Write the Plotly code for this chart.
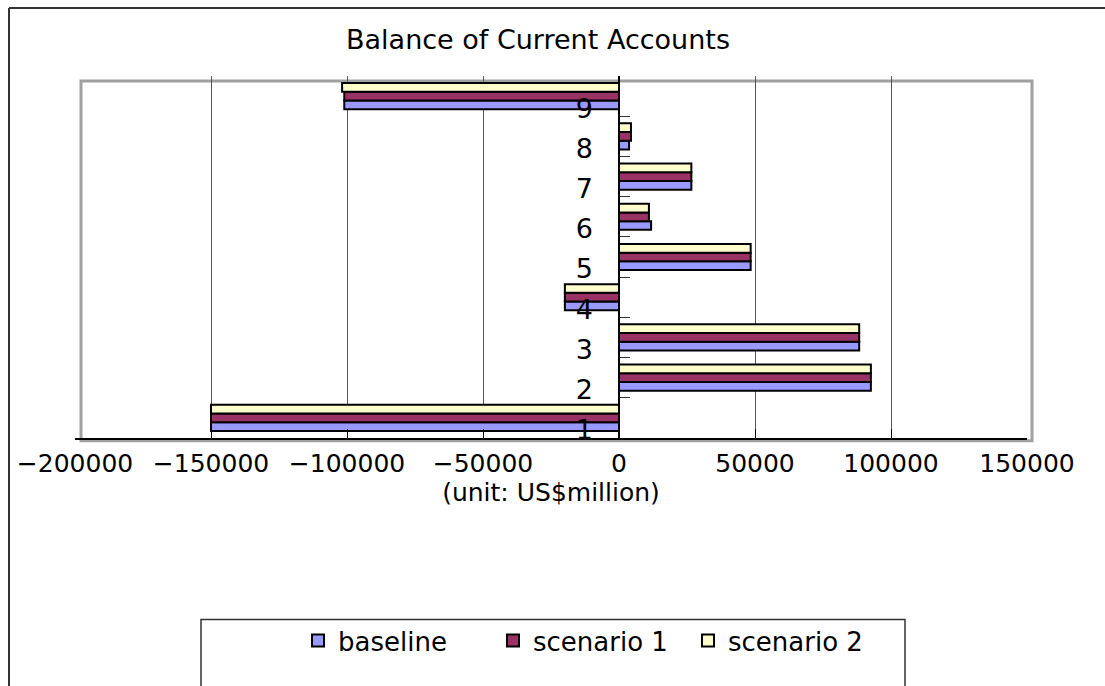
import plotly.graph_objects as go

# ---- data ----
categories = ["1", "2", "3", "4", "5", "6", "7", "8", "9"]
baseline = [-150000, 92600, 88300, -19900, 48400, 11800, 26600, 3700, -101000]
scenario1 = [-150000, 92600, 88300, -19900, 48400, 11000, 26600, 4400, -101000]
scenario2 = [-150000, 92600, 88300, -19900, 48400, 11000, 26600, 4400, -101800]
series_names = ["baseline", "scenario 1", "scenario 2"]
series_colors = ["#9999FF", "#993366", "#FFFFCC"]
x_tickvals = [-200000, -150000, -100000, -50000, 0, 50000, 100000, 150000]
x_ticktext = ["\u2212200000", "\u2212150000", "\u2212100000", "\u221250000", "0", "50000", "100000", "150000"]

W, H = 1105, 686
L, R, T, B = 75, 1027, 76, 438.3
FONT = "DejaVu Sans"


def px(x):
    return (x - L) / (R - L)


def py(y):
    return (B - y) / (B - T)


fig = go.Figure()
for name, vals, col in zip(series_names, [baseline, scenario1, scenario2], series_colors):
    fig.add_trace(go.Bar(
        y=categories, x=vals, name=name, orientation="h",
        marker=dict(color=col, line=dict(color="black", width=2)),
    ))

shapes = [
    # plot frame (grey)
    dict(type="rect", xref="paper", yref="paper", x0=px(81), x1=px(1032), y0=py(441), y1=py(81),
         line=dict(color="#a0a0a0", width=3), layer="below"),
    # outer chart border (left + top)
    dict(type="line", xref="paper", yref="paper", x0=px(9), x1=px(1120), y0=py(8), y1=py(8),
         line=dict(color="#333333", width=2)),
    dict(type="line", xref="paper", yref="paper", x0=px(9), x1=px(9), y0=py(8), y1=py(720),
         line=dict(color="#333333", width=2)),
    # legend box
    dict(type="rect", xref="paper", yref="paper", x0=px(201), x1=px(905), y0=py(720), y1=py(620),
         line=dict(color="#333333", width=1.5)),
]

fig.update_layout(
    width=W, height=H,
    margin=dict(l=L, r=W - R, t=T, b=H - B, pad=0),
    paper_bgcolor="white", plot_bgcolor="white",
    font=dict(family=FONT, color="black", size=26),
    barmode="group", bargap=0.35, bargroupgap=0,
    title=dict(text="Balance of Current Accounts", x=538 / W, xref="container", xanchor="center",
               y=1 - 40 / H, yref="container", yanchor="middle",
               font=dict(family=FONT, size=27, color="black")),
    xaxis=dict(range=[-200000, 150000], tickvals=x_tickvals, ticktext=x_ticktext,
               showgrid=True, gridcolor="#555555", gridwidth=1,
               showline=True, linecolor="black", linewidth=1.5,
               ticks="inside", ticklen=9, tickcolor="black",
               zeroline=False, ticklabelstandoff=2,
               tickfont=dict(family=FONT, size=25, color="black"),
               title=dict(text="(unit: US$million)", standoff=7,
                          font=dict(family=FONT, size=25, color="black"))),
    yaxis=dict(type="category", categoryorder="array", categoryarray=categories,
               anchor="free", position=px(619), side="left",
               showline=True, linecolor="black", linewidth=1.5,
               ticks="inside", tickson="boundaries", ticklen=10, tickcolor="#333333",
               showgrid=False, zeroline=False,
               ticklabelshift=12, ticklabelstandoff=20,
               tickfont=dict(family=FONT, size=27, color="black")),
    legend=dict(orientation="h", x=px(298), xanchor="left", y=py(641), yanchor="middle",
                traceorder="normal", bgcolor="rgba(0,0,0,0)", entrywidth=150, entrywidthmode="pixels",
                font=dict(family=FONT, size=26, color="black")),
    shapes=shapes,
)

fig.write_html("out.html")
